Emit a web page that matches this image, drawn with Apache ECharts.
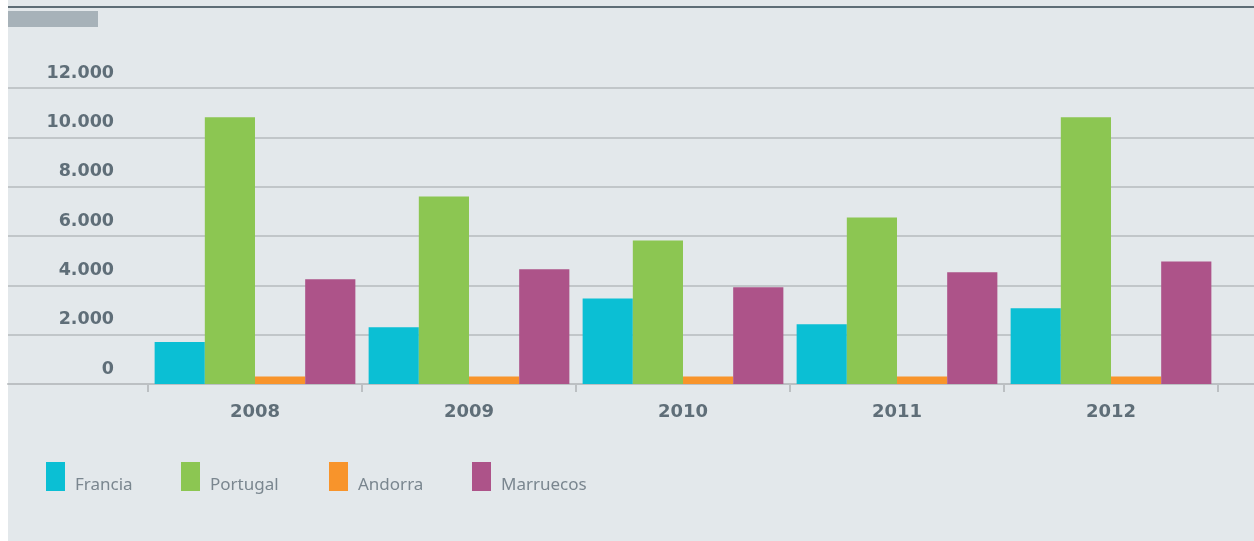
<!DOCTYPE html>
<html>
<head>
<meta charset="utf-8">
<script src="https://cdn.jsdelivr.net/npm/echarts@6/dist/echarts.min.js"></script>
<style>
html,body{margin:0;padding:0;background:#ffffff;}
#chart{width:1254px;height:541px;}
</style>
</head>
<body>
<div id="chart"></div>
<script>
const years = ['2008', '2009', '2010', '2011', '2012'];
const seriesNames = ['Francia', 'Portugal', 'Andorra', 'Marruecos'];
const francia = [1700, 2300, 3470, 2420, 3070];
const portugal = [10810, 7600, 5820, 6750, 10810];
const andorra = [300, 300, 300, 300, 300];
const marruecos = [4250, 4650, 3920, 4530, 4970];
const yTicks = [0, 2000, 4000, 6000, 8000, 10000, 12000];
const colors = ['#0bbfd4', '#8cc652', '#f8942b', '#ad5389'];

const chart = echarts.init(document.getElementById('chart'), null, {renderer: 'canvas'});

const fmt = v => String(v).replace(/\B(?=(\d{3})+(?!\d))/g, '.');
const yMin = yTicks[0], yMax = yTicks[yTicks.length - 1], yStep = yTicks[1] - yTicks[0];
const legendLefts = [46, 181, 329, 472];
const values = [francia, portugal, andorra, marruecos];

const option = {
  animation: false,
  backgroundColor: '#ffffff',
  graphic: [
    {type: 'rect', left: 8, top: 0, shape: {width: 1246, height: 541}, style: {fill: '#e3e8eb'}, z: -10},
    {type: 'line', shape: {x1: 8, y1: 7, x2: 1254, y2: 7}, style: {stroke: '#5e6d76', lineWidth: 2}, z: 1},
    {type: 'rect', shape: {x: 8, y: 11, width: 90, height: 16}, style: {fill: '#a7b2b9'}, z: 1}
  ],
  grid: [
    {left: 8, right: 0, top: 88, height: 296},
    {left: 148, width: 1070, top: 88, height: 296}
  ],
  xAxis: [
    {gridIndex: 0, type: 'category', data: years, axisLine: {show: true, lineStyle: {color: '#bcc0c3', width: 2}},
     axisTick: {show: false}, axisLabel: {show: false}, splitLine: {show: false}},
    {gridIndex: 1, type: 'category', data: years,
     axisLine: {show: false},
     axisTick: {show: true, length: 8, lineStyle: {color: '#bcc0c3', width: 2}},
     axisLabel: {margin: 19, color: '#5f6e78', fontFamily: 'DejaVu Sans', fontWeight: 'bold', fontSize: 18}}
  ],
  yAxis: [
    {gridIndex: 0, type: 'value', min: yMin, max: yMax, interval: yStep,
     axisLine: {show: false}, axisTick: {show: false}, axisLabel: {show: false},
     splitLine: {show: true, lineStyle: {color: '#c1c6c9', width: 2}}},
    {gridIndex: 1, type: 'value', min: yMin, max: yMax, interval: yStep,
     axisLine: {show: false}, axisTick: {show: false}, splitLine: {show: false},
     axisLabel: {margin: 34, formatter: fmt, color: '#5f6e78', fontFamily: 'DejaVu Sans', fontWeight: 'bold',
       fontSize: 17.5, lineHeight: 30, verticalAlign: 'bottom'}}
  ],
  legend: seriesNames.map((n, i) => ({
    data: [n], left: legendLefts[i], top: 459.5, padding: 0,
    itemWidth: 19, itemHeight: 29, icon: 'rect', selectedMode: false,
    formatter: name => '\n' + name,
    textStyle: {fontFamily: 'Noto Sans', fontSize: 17, color: '#7a868f', lineHeight: 17, padding: [0, 0, 0, 5]}
  })),
  series: seriesNames.map((n, i) => ({
    name: n, type: 'bar', xAxisIndex: 1, yAxisIndex: 1, data: values[i],
    barGap: '0%', barCategoryGap: '6.2%', itemStyle: {color: colors[i]}
  }))
};
chart.setOption(option);
</script>
</body>
</html>
